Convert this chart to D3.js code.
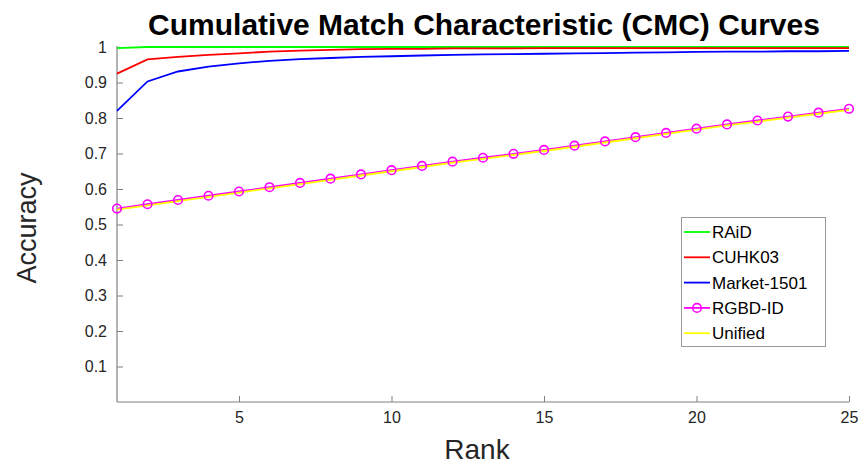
<!DOCTYPE html>
<html><head><meta charset="utf-8">
<script src="https://cdn.jsdelivr.net/npm/d3@7"></script>
<style>body{margin:0;background:#fff}svg{display:block}text{font-family:"Liberation Sans",Arial,Helvetica,sans-serif}</style>
</head><body><svg id="c" width="860" height="466"></svg>
<script>
const ranks = d3.range(1, 26);
const raid = [0.997,1,1,1,1,1,1,1,1,1,1,1,1,1,1,1,1,1,1,1,1,1,1,1,1];
const cuhk03 = [0.925,0.965,0.972,0.978,0.982,0.987,0.990,0.992,0.994,0.995,0.995,0.996,0.996,0.996,0.997,0.997,0.997,0.997,0.997,0.997,0.997,0.997,0.997,0.997,0.997];
const market = [0.820,0.903,0.931,0.945,0.954,0.961,0.966,0.969,0.972,0.974,0.976,0.978,0.979,0.980,0.981,0.982,0.983,0.984,0.985,0.986,0.987,0.987,0.988,0.988,0.989];
const rgbd = [0.545,0.557,0.569,0.581,0.593,0.605,0.617,0.629,0.641,0.653,0.665,0.677,0.688,0.699,0.710,0.722,0.734,0.746,0.758,0.770,0.782,0.793,0.804,0.815,0.826];
const unified = rgbd.map(v => v - 0.003);
const seriesNames = ["RAiD","CUHK03","Market-1501","RGBD-ID","Unified"];
const seriesColors = ["#00ff00","#ff0000","#0000ff","#ff00ff","#ffff00"];
const xTicks = [5,10,15,20,25];
const yTicks = [0.1,0.2,0.3,0.4,0.5,0.6,0.7,0.8,0.9,1];

const svg = d3.select("#c");
const L = 117, R = 849, T = 47, B = 402;
const x = d3.scaleLinear().domain([1,25]).range([L,R]);
const y = d3.scaleLinear().domain([0,1]).range([B,T]);

const axisColor = "#808080";
const gx = svg.append("g").attr("transform",`translate(0,${B})`)
  .call(d3.axisBottom(x).tickValues(xTicks).tickSizeInner(-6).tickSizeOuter(0).tickPadding(10).tickFormat(d3.format("d")));
const gy = svg.append("g").attr("transform",`translate(${L},0)`)
  .call(d3.axisLeft(y).tickValues(yTicks).tickSizeInner(-6).tickSizeOuter(0).tickPadding(10).tickFormat(d => d === 1 ? "1" : d3.format(".1f")(d)));
[gx, gy].forEach(g => {
  g.select(".domain").attr("stroke", axisColor).attr("stroke-width", 1.2);
  g.selectAll(".tick line").attr("stroke", axisColor).attr("stroke-width", 1);
  g.selectAll(".tick text").attr("fill","#262626").style("font-size","16px").style("font-family","'Liberation Sans',Arial,sans-serif");
});
gy.select(".domain").attr("d", `M0,${B}V${T-1}`);
gx.select(".domain").attr("d", `M${L},0H${R}`);

const data = [raid, cuhk03, market, rgbd, unified];
const line = d3.line().x((d,i) => x(ranks[i])).y(d => y(d));
[0,1,2,3,4].forEach(k => {
  svg.append("path").datum(data[k]).attr("d", line).attr("fill","none")
    .attr("stroke", seriesColors[k]).attr("stroke-width", 1.8);
});
svg.append("g").selectAll("circle").data(rgbd).join("circle")
  .attr("cx",(d,i) => x(ranks[i])).attr("cy", d => y(d)).attr("r", 4.3)
  .attr("fill","none").attr("stroke", seriesColors[3]).attr("stroke-width", 1.6);

// title & labels
svg.append("text").attr("x", 484).attr("y", 35).attr("text-anchor","middle")
  .style("font-size","30px").style("font-weight","bold").attr("fill","#000")
  .text("Cumulative Match Characteristic (CMC) Curves");
svg.append("text").attr("x", 477).attr("y", 459).attr("text-anchor","middle")
  .style("font-size","28px").attr("fill","#262626").text("Rank");
svg.append("text").attr("transform","translate(36,228) rotate(-90)").attr("text-anchor","middle")
  .style("font-size","27px").attr("fill","#262626").text("Accuracy");

// legend
const lg = svg.append("g");
lg.append("rect").attr("x",681.5).attr("y",217.5).attr("width",144).attr("height",129)
  .attr("fill","#fff").attr("stroke","#999").attr("stroke-width",1);
seriesNames.forEach((n,i) => {
  const yy = 232 + i*25.3;
  lg.append("line").attr("x1",684).attr("x2",710).attr("y1",yy).attr("y2",yy)
    .attr("stroke",seriesColors[i]).attr("stroke-width",1.8);
  if (i === 3) lg.append("circle").attr("cx",697).attr("cy",yy).attr("r",4.3)
    .attr("fill","none").attr("stroke",seriesColors[i]).attr("stroke-width",1.6);
  lg.append("text").attr("x",712).attr("y",yy+6).style("font-size","17px").attr("fill","#000").text(n);
});
</script></body></html>
